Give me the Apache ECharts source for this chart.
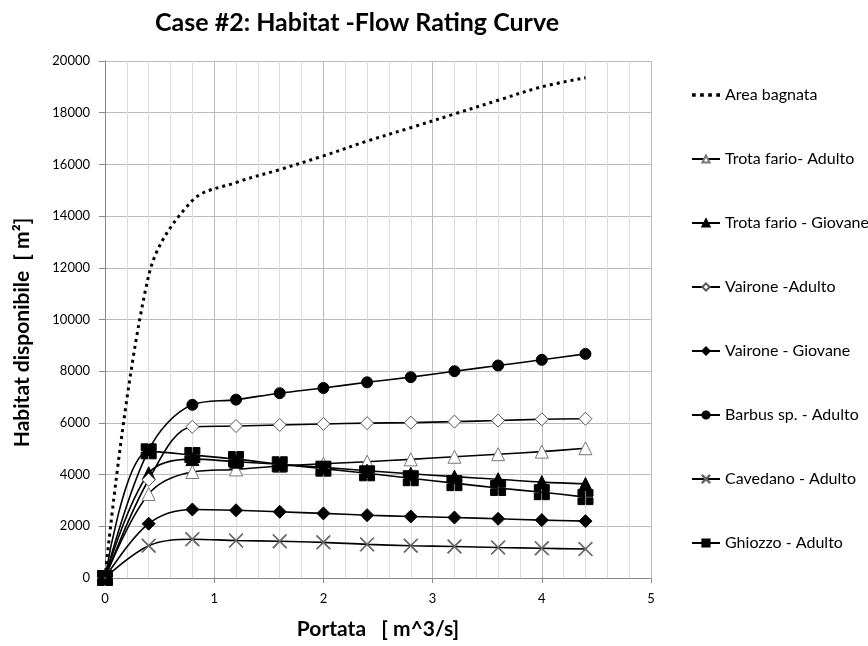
<!DOCTYPE html>
<html>
<head>
<meta charset="utf-8">
<script src="https://cdn.jsdelivr.net/npm/echarts@6/dist/echarts.min.js"></script>
<style>
  html, body { margin: 0; padding: 0; background: #fff; }
  #chart { width: 868px; height: 646px; }
</style>
</head>
<body>
<div id="chart"></div>
<script>
// portata (m^3/s)
var portata = [0, 0.4, 0.8, 1.2, 1.6, 2.0, 2.4, 2.8, 3.2, 3.6, 4.0, 4.4];

// habitat values (m2)
var areaBagnata = [0, 11700, 14600, 15300, 15800, 16330, 16900, 17420, 17950, 18480, 19000, 19350];
var trotaAdulto = [0, 3250, 4100, 4200, 4330, 4420, 4500, 4590, 4690, 4790, 4890, 5020];
var trotaGiovane = [0, 4050, 4600, 4500, 4400, 4280, 4150, 4030, 3920, 3820, 3710, 3640];
var vaironeAdulto = [0, 3800, 5850, 5880, 5920, 5960, 5990, 6010, 6050, 6090, 6140, 6160];
var vaironeGiovane = [0, 2100, 2650, 2620, 2560, 2500, 2430, 2380, 2340, 2290, 2240, 2200];
var barbusAdulto = [0, 4950, 6700, 6900, 7150, 7350, 7570, 7770, 8000, 8220, 8440, 8670];
var cavedanoAdulto = [0, 1250, 1500, 1450, 1420, 1380, 1300, 1250, 1220, 1180, 1150, 1120];
var ghiozzoAdulto = [0, 4900, 4760, 4600, 4400, 4230, 4050, 3860, 3670, 3480, 3320, 3130];

var seriesNames = [
  "Area bagnata",
  "Trota fario- Adulto",
  "Trota fario - Giovane",
  "Vairone -Adulto",
  "Vairone - Giovane",
  "Barbus sp. - Adulto",
  "Cavedano - Adulto",
  "Ghiozzo - Adulto"
];

function pairs(ys) {
  return ys.map(function (y, i) { return [portata[i], y]; });
}

var font = "Lato";
var crossPath = "path://M0,1L1,0L10,9L19,0L20,1L11,10L20,19L19,20L10,11L1,20L0,19L9,10Z";
var squarePath = "path://M0,0H9V9H0Z M11,0H20V9H11Z M0,11H9V20H0Z M11,11H20V20H11Z";
var dotsPath = "path://M0,0H3V3H0Z M6.5,0H9.5V3H6.5Z M13,0H16V3H13Z M19.5,0H22.5V3H19.5Z";

function fishSeries(name, data, symbol, size, fill, border) {
  return {
    name: name,
    type: "line",
    data: pairs(data),
    smooth: 0.35,
    symbol: symbol,
    symbolSize: size,
    showAllSymbol: true,
    z: 3,
    lineStyle: { color: "#000", width: 1.6 },
    itemStyle: { color: fill, borderColor: border, borderWidth: 1 }
  };
}

var legendData = seriesNames.map(function (n, i) {
  return i === 0 ? { name: n, icon: dotsPath } : { name: n };
});

var myChart = echarts.init(document.getElementById("chart"));

var option = {
  animation: false,
  backgroundColor: "#fff",
  textStyle: { fontFamily: font, color: "#000" },
  title: {
    text: "Case #2: Habitat -Flow Rating Curve",
    left: 150,
    top: 5,
    textStyle: { fontFamily: font, fontSize: 25, fontWeight: "bold", color: "#000" }
  },
  grid: { left: 105, right: 217, top: 61, bottom: 68 },
  legend: {
    orient: "vertical",
    left: 686,
    top: 81,
    itemWidth: 28,
    itemHeight: 9,
    itemGap: 46,
    textStyle: { fontFamily: font, fontSize: 16, lineHeight: 18, color: "#000" },
    data: legendData
  },
  xAxis: {
    type: "value",
    min: 0,
    max: 5,
    interval: 1,
    name: "Portata   [ m^3/s]",
    nameLocation: "middle",
    nameGap: 41,
    nameTextStyle: { fontFamily: font, fontSize: 21, fontWeight: "bold", color: "#000" },
    axisLine: { lineStyle: { color: "#888" } },
    axisTick: { show: true, length: 5, lineStyle: { color: "#888" } },
    axisLabel: { fontSize: 13, color: "#000", margin: 14 },
    splitLine: { show: true, lineStyle: { color: "#bbb" } },
    minorTick: { show: false, splitNumber: 5 },
    minorSplitLine: { show: true, lineStyle: { color: "#dcdcdc" } }
  },
  yAxis: {
    type: "value",
    min: 0,
    max: 20000,
    interval: 2000,
    name: "Habitat disponibile  [ m²]",
    nameLocation: "middle",
    nameGap: 72,
    nameTextStyle: {
      fontFamily: font, fontSize: 21, fontWeight: "bold", color: "#000",
      padding: [0, 26, 0, 0]
    },
    axisLine: { show: true, lineStyle: { color: "#888" } },
    axisTick: { show: true, length: 6, lineStyle: { color: "#888" } },
    axisLabel: {
      fontSize: 13, color: "#000", margin: 15,
      formatter: function (v) { return String(v); }
    },
    splitLine: { show: true, lineStyle: { color: "#bbb" } }
  },
  series: [
    {
      name: seriesNames[0],
      type: "line",
      data: pairs(areaBagnata),
      smooth: 0.35,
      symbol: "none",
      z: 2,
      lineStyle: { color: "#000", width: 3, type: [3, 4] },
      itemStyle: { color: "#000" }
    },
    fishSeries(seriesNames[1], trotaAdulto, "triangle", 13, "#fff", "#777"),
    fishSeries(seriesNames[2], trotaGiovane, "triangle", 13, "#000", "#000"),
    fishSeries(seriesNames[3], vaironeAdulto, "diamond", 13, "#fff", "#555"),
    fishSeries(seriesNames[4], vaironeGiovane, "diamond", 13, "#000", "#000"),
    fishSeries(seriesNames[5], barbusAdulto, "circle", 11, "#000", "#000"),
    fishSeries(seriesNames[6], cavedanoAdulto, crossPath, 14, "#666", "#666"),
    fishSeries(seriesNames[7], ghiozzoAdulto, squarePath, 15, "#000", "#000")
  ]
};

myChart.setOption(option);
</script>
</body>
</html>
